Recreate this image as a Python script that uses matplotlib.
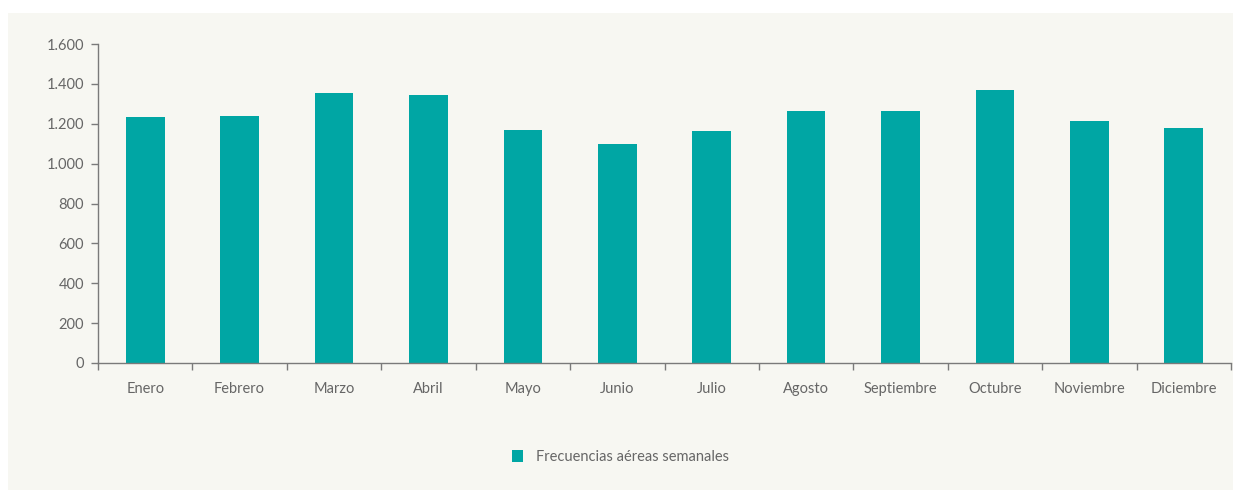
import matplotlib
matplotlib.use("Agg")
from matplotlib import pyplot as plt
from matplotlib.patches import Rectangle

months = ["Enero", "Febrero", "Marzo", "Abril", "Mayo", "Junio", "Julio",
          "Agosto", "Septiembre", "Octubre", "Noviembre", "Diciembre"]
frecuencias = [1234, 1239, 1354, 1344, 1168, 1098, 1163, 1264, 1264, 1369, 1214, 1178]
yticks = [0, 200, 400, 600, 800, 1000, 1200, 1400, 1600]
ylabels = ["0", "200", "400", "600", "800", "1.000", "1.200", "1.400", "1.600"]

bg = "#f7f7f2"
teal = "#00a6a4"
grey = "#666666"
axis_col = "#7a7a7a"

plt.rcParams["font.family"] = ["Lato", "DejaVu Sans"]

fig = plt.figure(figsize=(12.41, 4.92), dpi=100)
fig.patch.set_facecolor("white")
# light panel behind the chart
fig.patches.append(Rectangle((8 / 1241, 2 / 492), 1225 / 1241, 477 / 492,
                             transform=fig.transFigure, facecolor=bg,
                             edgecolor="none", zorder=-10))

ax = fig.add_axes([98 / 1241, 129 / 492, 1133 / 1241, 319 / 492])
ax.set_facecolor("none")

x = list(range(len(months)))
bars = ax.bar(x, frecuencias, width=0.41, color=teal,
              label="Frecuencias aéreas semanales", zorder=2)

ax.set_xlim(-0.5, len(months) - 0.5)
ax.set_ylim(0, 1600)
ax.set_yticks(yticks)
ax.set_yticklabels(ylabels)
ax.set_xticks(x)
ax.set_xticklabels(months)
ax.set_xticks([i - 0.5 for i in range(len(months) + 1)], minor=True)
ax.tick_params(axis="x", which="major", length=0, pad=14, labelsize=10.5,
               labelcolor=grey)
ax.tick_params(axis="x", which="minor", length=5, width=1, color=axis_col,
               direction="out")
ax.tick_params(axis="y", length=5, width=1, color=axis_col, pad=5,
               labelsize=10.5, labelcolor=grey)

for side in ["top", "right"]:
    ax.spines[side].set_visible(False)
for side in ["left", "bottom"]:
    ax.spines[side].set_color(axis_col)
    ax.spines[side].set_linewidth(1)

leg = fig.legend(handles=[bars], labels=["Frecuencias aéreas semanales"],
                 loc="center", bbox_to_anchor=(0.5, 1 - 457 / 492),
                 frameon=False, fontsize=10.5, handlelength=0.8,
                 handleheight=0.8, handletextpad=0.9)
for t in leg.get_texts():
    t.set_color(grey)

fig.savefig("out.png", dpi=100, facecolor=fig.get_facecolor())
